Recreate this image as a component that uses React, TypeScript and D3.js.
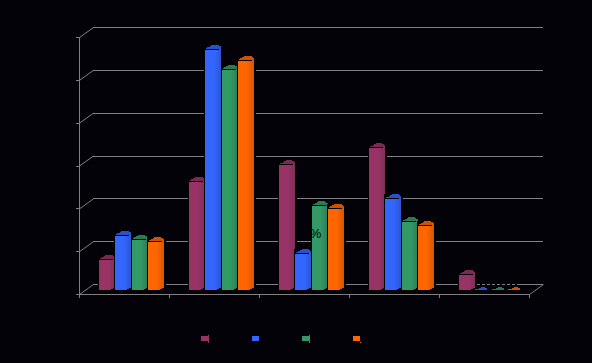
import React from "react";
import * as d3 from "d3";

const categories = ["A", "B", "C", "D", "E"];
const seriesNames = ["S1", "S2", "S3", "S4"];
const seriesColors = ["#993366", "#3366ff", "#339966", "#ff6600"];
const capColors = ["#7a2a52", "#2a50cc", "#2a7a52", "#cc5200"];
const darkColors = ["#80305a", "#2b55d0", "#2c8058", "#d95700"];
const s1 = [0.72, 2.55, 2.93, 3.33, 0.37];
const s2 = [1.29, 5.63, 0.86, 2.14, 0.02];
const s3 = [1.19, 5.16, 1.98, 1.6, 0.02];
const s4 = [1.14, 5.37, 1.92, 1.51, 0.02];
const series = [s1, s2, s3, s4];
const yTicks = [0, 1, 2, 3, 4, 5, 6];

const W = 592, H = 363;
const x0 = d3.scaleBand<string>().domain(categories).range([79, 529]);
const x1 = d3.scaleBand<string>().domain(seriesNames).range([20, 85]);
const y = d3.scaleLinear().domain([0, 6]).range([294, 37]);
const depthX = 14, depthY = -10, base = 4;
const barW = 15;
const legendX = d3.scalePoint<string>().domain(seriesNames).range([201, 353]);

export default function App() {
  return (
    <svg width={W} height={H} style={{ position: "fixed", left: 0, top: 0, background: "#020208", display: "block" }}>
      <defs>
        {seriesColors.map((c, i) => (
          <linearGradient key={i} id={`g${i}`} x1="0" x2="1" y1="0" y2="0">
            <stop offset="0" stopColor={c} />
            <stop offset="0.55" stopColor={c} />
            <stop offset="1" stopColor={darkColors[i]} />
          </linearGradient>
        ))}
      </defs>
      <rect width={W} height={H} fill="#020208" />
      <g stroke="#808080" strokeWidth={1} fill="none" shapeRendering="crispEdges">
        {yTicks.map((t) => (
          <g key={t}>
            <line x1={79 + depthX} x2={529 + depthX} y1={y(t) + depthY + 0.5} y2={y(t) + depthY + 0.5} />
            <line x1={76} x2={79} y1={y(t) + 0.5} y2={y(t) + 0.5} />
          </g>
        ))}
        <line x1={79.5} x2={79.5} y1={37} y2={297} />
        <line x1={76} x2={529} y1={294.5} y2={294.5} />
        {[...categories, "end"].map((c, i) => {
          const px = 79 + i * x0.bandwidth();
          return <line key={c} x1={px + 0.5} x2={px + 0.5} y1={294} y2={298} />;
        })}
      </g>
      <g stroke="#808080" strokeWidth={1} fill="none">
        {yTicks.map((t) => (
          <line key={t} x1={79.5} x2={79.5 + depthX} y1={y(t) + 0.5} y2={y(t) + depthY + 0.5} />
        ))}
        <line x1={529.5} x2={529.5 + depthX} y1={294.5} y2={284.5} />
      </g>
      <line x1={475} x2={520} y1={284.5} y2={284.5} stroke="#000" strokeDasharray="2 3" shapeRendering="crispEdges" />
      {categories.map((c, ci) => (
        <g key={c}>
          {seriesNames.map((s, si) => {
            const v = series[si][ci];
            const bx = x0(c)! + x1(s)!;
            const bottom = y(0) - base;
            const top = y(v) - base;
            if (v < 0.1) {
              return (
                <path
                  key={s}
                  shapeRendering="crispEdges"
                  d={`M${bx},${bottom} L${bx},${bottom - 1} L${bx + 4},${bottom - 1} L${bx + 4},${bottom - 2} L${bx + 6},${bottom - 2} L${bx + 6},${bottom - 3} L${bx + 10},${bottom - 3} L${bx + 10},${bottom - 2} L${bx + 12},${bottom - 2} L${bx + 12},${bottom} Z`}
                  fill={seriesColors[si]}
                  fillOpacity={0.8}
                />
              );
            }
            return (
              <g key={s} shapeRendering="crispEdges">
                <rect x={bx - 1} y={top - 4} width={barW + 4} height={bottom - top + 5} fill="#000" />
                <path
                  d={`M${bx + 1},${top - 1} L${bx + 4},${top - 2} L${bx + 7},${top - 4} L${bx + barW - 2},${top - 4} L${bx + barW + 1},${top - 2} L${bx + barW + 1},${top + 2} L${bx + 1},${top + 2} Z`}
                  fill={capColors[si]}
                />
                <rect x={bx} y={top} width={barW + 1} height={bottom - top} fill={`url(#g${si})`} />
                <line x1={bx} x2={bx + barW - 1} y1={top + 0.5} y2={top + 0.5} stroke="#000" />
                <path d={`M${bx + barW - 3},${bottom} L${bx + barW + 1},${bottom} L${bx + barW + 1},${bottom - 2} L${bx + barW - 1},${bottom - 2} L${bx + barW - 1},${bottom - 1} L${bx + barW - 3},${bottom - 1} Z`} fill="#000" />
              </g>
            );
          })}
        </g>
      ))}
      <text x={315.5} y={238} fontFamily="Liberation Sans, sans-serif" fontSize={13} fill="#000" textAnchor="middle">%</text>
      <g shapeRendering="crispEdges">
        {seriesNames.map((s, i) => (
          <g key={s}>
            <rect x={Math.round(legendX(s)!)} y={336} width={7} height={5} fill={seriesColors[i]} />
            {i % 2 === 0 && <rect x={Math.round(legendX(s)!) + 7} y={335} width={1} height={8} fill={seriesColors[i]} />}
            {i === 3 && <rect x={Math.round(legendX(s)!) + 7} y={342} width={1} height={1} fill={seriesColors[i]} />}
          </g>
        ))}
      </g>
    </svg>
  );
}
